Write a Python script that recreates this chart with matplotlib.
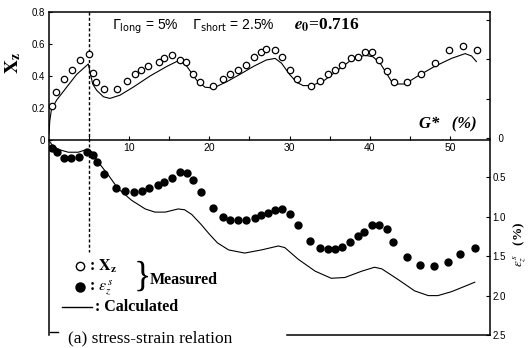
import matplotlib
matplotlib.use("Agg")
import matplotlib.pyplot as plt
from matplotlib.lines import Line2D
from matplotlib.ticker import FixedLocator, FixedFormatter

plt.rcParams['mathtext.fontset'] = 'stix'
plt.rcParams['font.family'] = ['Liberation Sans', 'DejaVu Sans']

# ---------------- data ----------------
# measured X_z (open circles)
xz_meas_g = [0.41, 0.87, 1.9, 2.87, 3.9, 4.95, 5.49, 5.86, 6.86, 8.44, 9.69, 10.7, 11.5, 12.3,
             13.7, 14.4, 15.3, 16.3, 17.1, 18.0, 18.8, 20.5, 21.7, 22.6, 23.6, 24.6, 25.6, 26.4,
             27.1, 28.2, 29.1, 30.0, 30.9, 32.7, 33.8, 34.8, 35.7, 36.6, 37.7, 38.5, 39.4, 40.3,
             41.2, 42.2, 43.0, 44.6, 46.4, 48.2, 49.9, 51.6, 53.4]
xz_meas = [0.21, 0.30, 0.38, 0.44, 0.50, 0.535, 0.42, 0.36, 0.32, 0.32, 0.37, 0.41, 0.435, 0.465,
           0.49, 0.51, 0.53, 0.50, 0.49, 0.41, 0.36, 0.34, 0.38, 0.41, 0.44, 0.47, 0.52, 0.55,
           0.57, 0.56, 0.52, 0.44, 0.38, 0.34, 0.37, 0.41, 0.44, 0.47, 0.51, 0.52, 0.55, 0.55,
           0.50, 0.43, 0.36, 0.36, 0.41, 0.48, 0.56, 0.59, 0.56]

# calculated X_z (line)
xz_calc_g = [0.0, 0.1, 0.3, 0.96, 2.2, 3.45, 4.9, 5.45, 5.95, 6.8, 7.6, 8.85, 10.5, 12.6, 14.7,
             15.9, 16.5, 17.2, 18.4, 19.45, 20.5, 22.2, 23.8, 25.5, 27.1, 28.2, 29.0, 30.0, 30.9,
             31.7, 32.8, 34.4, 36.1, 37.7, 39.4, 40.4, 41.3, 42.3, 42.9, 44.4, 46.0, 48.1, 50.2,
             51.9, 52.7, 53.3]
xz_calc = [0.04, 0.12, 0.19, 0.25, 0.33, 0.41, 0.475, 0.35, 0.31, 0.27, 0.26, 0.28, 0.33, 0.40,
           0.46, 0.49, 0.49, 0.46, 0.375, 0.33, 0.325, 0.365, 0.41, 0.46, 0.50, 0.51, 0.48, 0.41,
           0.36, 0.34, 0.34, 0.375, 0.44, 0.50, 0.53, 0.52, 0.48, 0.40, 0.35, 0.35, 0.40, 0.46,
           0.51, 0.54, 0.525, 0.49]

# measured eps_z^s (filled circles)
eps_meas_g = [0.33, 0.96, 1.9, 2.8, 3.8, 4.8, 5.45, 5.95, 6.8, 8.4, 9.5, 10.6, 11.6, 12.5, 13.6,
              14.4, 15.3, 16.3, 17.2, 18.0, 18.9, 20.5, 21.7, 22.6, 23.6, 24.6, 25.7, 26.5, 27.3,
              28.2, 29.1, 30.0, 31.0, 32.6, 33.8, 34.8, 35.7, 36.6, 37.6, 38.5, 39.3, 40.3, 41.1,
              42.2, 42.9, 44.6, 46.3, 48.0, 49.7, 51.3, 53.1]
eps_meas = [0.13, 0.18, 0.25, 0.25, 0.24, 0.18, 0.21, 0.30, 0.46, 0.63, 0.67, 0.68, 0.67, 0.64,
            0.60, 0.56, 0.51, 0.43, 0.44, 0.53, 0.69, 0.89, 1.00, 1.04, 1.04, 1.04, 1.01, 0.98,
            0.95, 0.91, 0.90, 0.96, 1.11, 1.31, 1.39, 1.41, 1.41, 1.38, 1.32, 1.24, 1.19, 1.10,
            1.10, 1.16, 1.32, 1.51, 1.61, 1.62, 1.57, 1.47, 1.39]

# calculated eps_z^s (line)
eps_calc_g = [0.0, 0.4, 1.2, 2.4, 3.65, 4.7, 5.3, 6.1, 7.4, 8.6, 10.3, 12.0, 13.2, 14.5, 16.1,
              16.9, 17.8, 19.0, 20.0, 21.0, 22.4, 24.4, 26.5, 28.6, 29.4, 31.1, 33.2, 35.2, 36.9,
              39.0, 40.6, 41.5, 43.6, 45.6, 47.3, 48.5, 50.2, 51.9, 53.1]
eps_calc = [0.03, 0.09, 0.145, 0.18, 0.18, 0.145, 0.17, 0.30, 0.47, 0.64, 0.79, 0.90, 0.94, 0.94,
            0.90, 0.91, 0.97, 1.10, 1.22, 1.33, 1.42, 1.46, 1.42, 1.37, 1.39, 1.54, 1.69, 1.78,
            1.77, 1.69, 1.64, 1.66, 1.80, 1.94, 2.00, 2.00, 1.95, 1.88, 1.83]

g_major_ticks = [10, 20, 30, 40, 50]
g_minor_ticks = [5, 15, 25, 35, 45]
g_tick_labels = ['10', '20', '30', '40', '50']
xz_ticks = [0.0, 0.2, 0.4, 0.6, 0.8]
xz_tick_labels = ['0', '0.2', '0.4', '0.6', '0.8']
eps_ticks = [-1.5, -1.0, -0.5, 0.0, 0.5, 1.0, 1.5, 2.0, 2.5]
eps_tick_labels = ['', '', '', '  0', '0.5', '1.0', '1.5', '2.0', '2.5']
split_g = 5.0          # dashed line (switch of loading)
split_eps_end = 1.45

# ---------------- layout ----------------
W, H = 529, 348
fig = plt.figure(figsize=(W / 100, H / 100), dpi=100)

def fx(px):
    return px / W

def fy(py):
    return 1 - py / H

L, R = 49, 490
ax_e = fig.add_axes([fx(L), fy(335), fx(R - L), (335 - 12) / H])
ax_t = fig.add_axes([fx(L), fy(140), fx(R - L), 128 / H])

# ---- strain (full-height) axes ----
ax_e.set_xlim(0, 55)
ax_e.set_ylim(2.5, -1.6)
ax_e.patch.set_visible(False)
for s in ['left', 'top', 'right', 'bottom']:
    ax_e.spines[s].set_linewidth(1.1)
ax_e.spines['bottom'].set_bounds(29.7, 55)
ax_e.set_xticks([])
ax_e.yaxis.tick_right()
ax_e.yaxis.set_major_locator(FixedLocator(eps_ticks))
ax_e.yaxis.set_major_formatter(FixedFormatter(eps_tick_labels))
ax_e.tick_params(axis='y', direction='in', length=3, width=0.8, pad=2, labelsize=7)
ax_e.yaxis.set_label_position('right')
ax_e.set_ylabel(r'$\varepsilon_z^{\,s}$   (%)', rotation=90, fontsize=9.5,
                family='Liberation Serif', fontweight='bold')
ax_e.yaxis.set_label_coords(1.048, 0.28)

ax_e.plot(eps_calc_g, eps_calc, color='black', lw=0.8)
ax_e.plot(eps_meas_g, eps_meas, 'o', color='black', ms=5, mec='black')
ax_e.plot([split_g, split_g], [ax_e.get_ylim()[1], split_eps_end], color='black',
          lw=1.0, linestyle=(0, (2.2, 1.6)))

# ---- X_z (top) axes ----
ax_t.set_xlim(0, 55)
ax_t.set_ylim(0, 0.8)
ax_t.patch.set_visible(False)
for s in ['left', 'top', 'right']:
    ax_t.spines[s].set_visible(False)
ax_t.spines['bottom'].set_linewidth(1.1)
ax_t.xaxis.set_major_locator(FixedLocator(g_major_ticks))
ax_t.xaxis.set_major_formatter(FixedFormatter(g_tick_labels))
ax_t.xaxis.set_minor_locator(FixedLocator(g_minor_ticks))
ax_t.tick_params(axis='x', which='both', direction='in', length=3, width=0.8, pad=2, labelsize=7.5)
ax_t.yaxis.set_major_locator(FixedLocator(xz_ticks))
ax_t.yaxis.set_major_formatter(FixedFormatter(xz_tick_labels))
ax_t.tick_params(axis='y', direction='in', length=2.5, width=0.8, pad=3, labelsize=7)
ax_t.set_ylabel(r'$\mathbf{X}_{\mathbf{z}}$', fontsize=14, rotation=90)
ax_t.yaxis.set_label_coords(-0.058, 0.60)

ax_t.plot(xz_calc_g, xz_calc, color='black', lw=0.8)
ax_t.plot(xz_meas_g, xz_meas, 'o', mfc='white', mec='black', mew=0.9, ms=4.6, clip_on=False)

# ---- annotations ----
fig.text(fx(112), fy(27), r'$\Gamma_{\mathrm{long}}$ = 5%    $\Gamma_{\mathrm{short}}$ = 2.5%',
         fontsize=10, family='Liberation Sans', math_fontfamily='dejavusans', va='center', ha='left')
fig.text(fx(294), fy(25), r'$\mathbfit{e}_{\mathbf{0}}$=0.716', fontsize=12.5,
         family='Liberation Serif', fontweight='bold', va='center', ha='left')
fig.text(fx(419), fy(124), 'G*   (%)', fontsize=12, family='Liberation Serif',
         fontweight='bold', fontstyle='italic', va='center', ha='left')

# ---- legend drawn by hand ----
fig.add_artist(Line2D([fx(80)], [fy(266)], marker='o', mfc='white', mec='black', mew=1.0,
                      ms=6, transform=fig.transFigure))
fig.add_artist(Line2D([fx(80)], [fy(287)], marker='o', color='black', ms=6.5,
                      transform=fig.transFigure))
fig.add_artist(Line2D([fx(62), fx(92)], [fy(307), fy(307)], color='black', lw=1.0,
                      transform=fig.transFigure))
fig.add_artist(Line2D([fx(50), fx(58)], [fy(332), fy(332)], color='black', lw=1.0,
                      transform=fig.transFigure))
fig.text(fx(89), fy(266), r': $\mathbf{X}_{\mathbf{z}}$', fontsize=11.5, family='Liberation Serif',
         fontweight='bold', va='center', ha='left')
fig.text(fx(89), fy(288), r': $\varepsilon_z^{\,s}$', fontsize=11.5, family='Liberation Serif',
         fontweight='bold', va='center', ha='left')
fig.text(fx(134), fy(277), '}', fontsize=26, family='Liberation Serif', va='center', ha='left')
fig.text(fx(150), fy(280), 'Measured', fontsize=11.5, family='Liberation Serif',
         fontweight='bold', va='center', ha='left')
fig.text(fx(95), fy(307), ': Calculated', fontsize=11.5, family='Liberation Serif',
         fontweight='bold', va='center', ha='left')
fig.text(fx(68), fy(338), '(a) stress-strain relation', fontsize=12.5, family='Liberation Serif',
         va='center', ha='left')

fig.savefig('out.png', dpi=100)
